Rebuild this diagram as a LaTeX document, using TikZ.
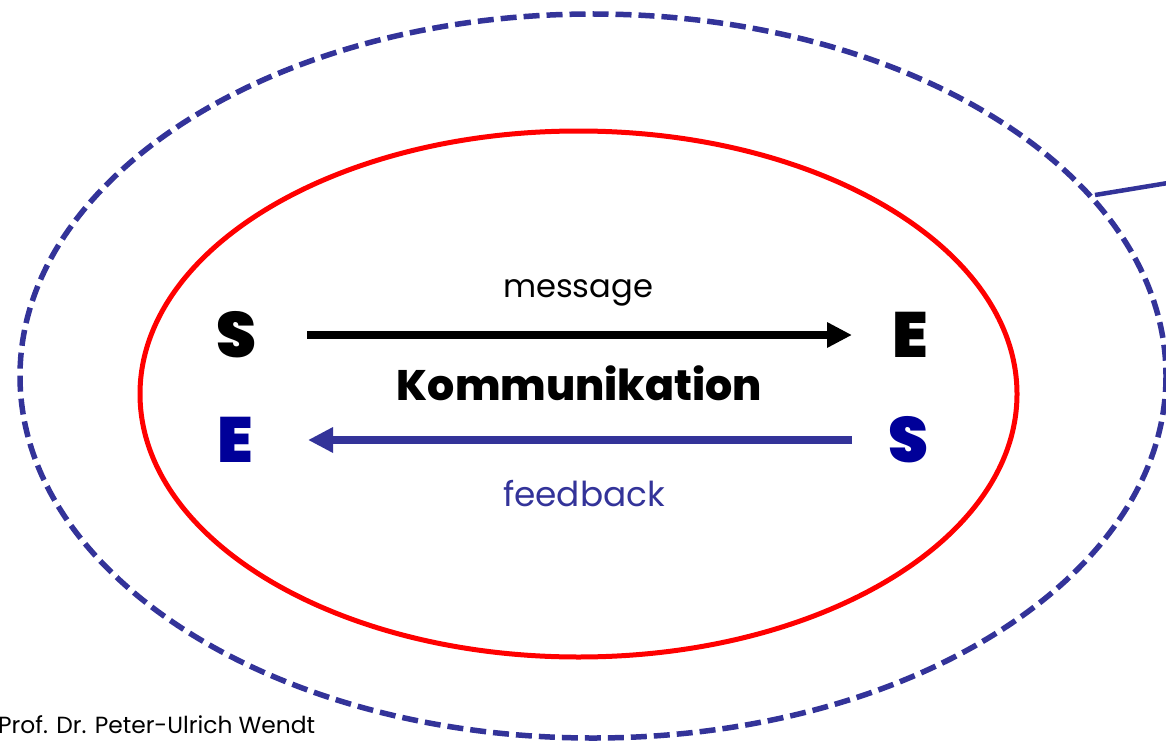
\documentclass[tikz,border=0pt]{standalone}
\usepackage{fontspec}
\setmainfont{Poppins}
\newfontfamily\heavyfont{Poppins Black}
\newfontfamily\xboldfont{Poppins ExtraBold}
\usetikzlibrary{arrows.meta}
\definecolor{dblue}{HTML}{333399}
\definecolor{nblue}{HTML}{000099}
\definecolor{pred}{HTML}{FF0000}
\tikzset{
  outer/.style={draw=dblue, line width=5.5pt, dash pattern=on 16pt off 7pt},
  inner/.style={draw=pred, line width=5pt},
  letter/.style={inner sep=0pt, font=\fontsize{64}{64}\selectfont\heavyfont},
  arr/.style={line width=8.5pt, -{Triangle[length=25pt, width=24pt]}},
  lbl/.style={inner sep=0pt, anchor=base},
}
\begin{document}
\begin{tikzpicture}[x=1pt,y=-1pt]
\useasboundingbox (0,0) rectangle (1166,741);
\draw[outer] (593,376) ellipse [x radius=573, y radius=362];
\draw[inner] (578.5,394) ellipse [x radius=438.5, y radius=263];
\coordinate (c1) at (1095,195);
\coordinate (c2) at (1180,181);
\draw[dblue, line width=4.5pt] (c1) -- (c2);
\node[letter] (s1) at (236,335) {S};
\node[letter] (e1) at (910,335) {E};
\node[letter, text=nblue] (e2) at (235,440) {E};
\node[letter, text=nblue] (s2) at (908,440) {S};
\draw[arr, black] ([xshift=71pt]s1.center) -- ([xshift=-58pt]e1.center);
\draw[arr, dblue] ([xshift=-56pt]s2.center) -- ([xshift=73pt]e2.center);
\node[lbl] (msg) at (578,297) {\resizebox{150pt}{!}{message}};
\node[lbl] (kom) at (579.5,400) {\resizebox{365pt}{!}{\xboldfont Kommunikation}};
\node[lbl, text=dblue] (fb) at (584,506) {\resizebox{162pt}{!}{feedback}};
\node[inner sep=0pt, anchor=base west] (prof) at (-2,733) {\resizebox{317pt}{!}{Prof. Dr. Peter-Ulrich Wendt}};
\end{tikzpicture}
\end{document}
